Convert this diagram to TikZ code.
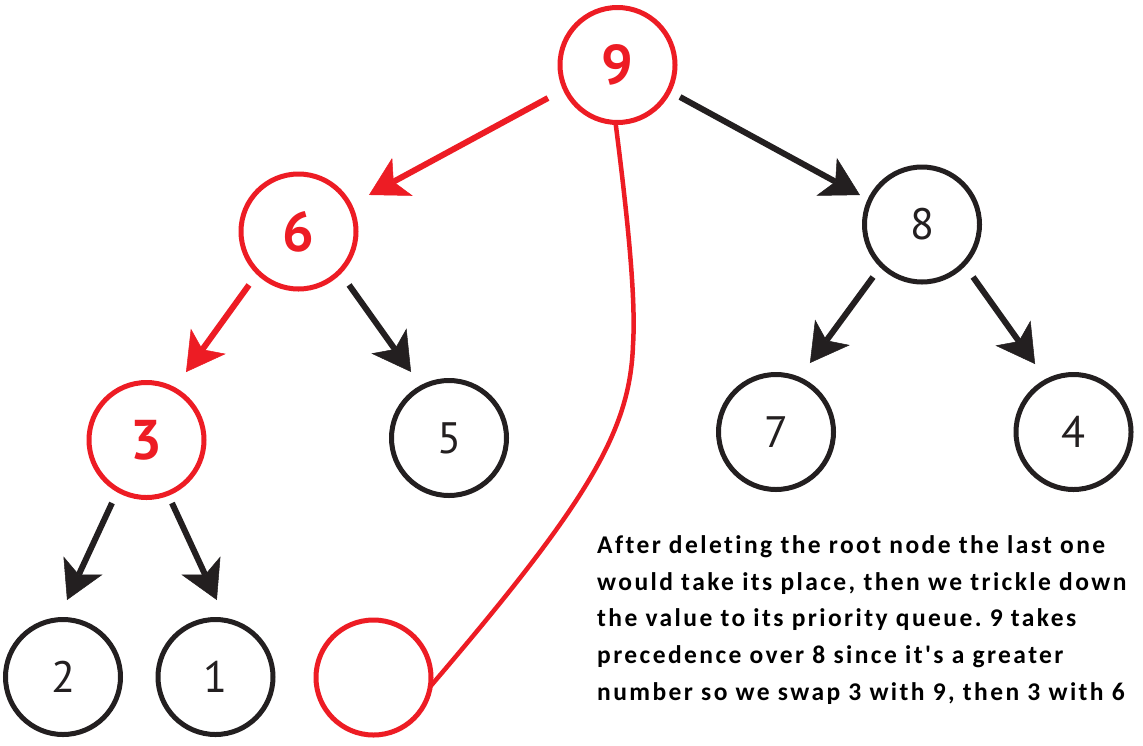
\documentclass[tikz,border=0pt]{standalone}
\usepackage{fontspec}
\usetikzlibrary{arrows.meta,calc}
\newfontfamily\digitfont{PT Sans}
\newfontfamily\notefont{Carlito}[LetterSpace=9.5, Ligatures=NoCommon]
\definecolor{hred}{HTML}{ED1C24}
\definecolor{hblack}{HTML}{231F20}
\frenchspacing
\tikzset{
  heapnode/.style={circle, draw=hblack, line width=5pt, minimum size=115pt, inner sep=0pt, outer sep=0pt,
    text=hblack, font=\digitfont\fontsize{44}{44}\selectfont},
  rednode/.style={heapnode, draw=hred, text=hred, font=\digitfont\bfseries\fontsize{56}{56}\selectfont},
  blackarr/.style={draw=hblack, line width=6pt, -{Stealth[length=38pt, width=43pt, inset=10pt, line width=0.5pt]}},
  redarr/.style={blackarr, draw=hred, fill=hred},
  swapline/.style={draw=hred, line width=4.5pt},
}
\begin{document}
\begin{tikzpicture}[x=1pt,y=-1pt]
\useasboundingbox[fill=white] (0,0) rectangle (1143,745);
\node[rednode] (n9) at (617.5,65) {9};
\node[rednode] (n6) at (298.5,231.5) {6};
\node[heapnode] (n8) at (922,224.5) {8};
\node[rednode] (n3) at (146.5,440) {3};
\node[heapnode] (n5) at (449,438) {5};
\node[heapnode] (n7) at (776,432) {7};
\node[heapnode] (n4) at (1073.5,432) {4};
\node[heapnode] (n2) at (63,677) {2};
\node[heapnode] (n1) at (215.5,677) {1};
\node[heapnode, draw=hred] (ne) at (373.5,677.5) {};
% connectors
\draw[redarr] ($(n9)+(205.4:77pt)$) -- ($(n6)+(27.4:79.4pt)$);
\draw[blackarr, fill=hblack] ($(n9)+(332.9:70.2pt)$) -- ($(n8)+(154.6:68.7pt)$);
\draw[redarr] ($(n6)+(227.2:72.9pt)$) -- ($(n3)+(59.8:78.6pt)$);
\draw[blackarr, fill=hblack] ($(n6)+(313.4:73.6pt)$) -- ($(n5)+(119.9:76.2pt)$);
\draw[blackarr, fill=hblack] ($(n8)+(227:71.8pt)$) -- ($(n7)+(63.8:76.9pt)$);
\draw[blackarr, fill=hblack] ($(n8)+(314.2:73.2pt)$) -- ($(n4)+(119.5:78.1pt)$);
\draw[blackarr, fill=hblack] ($(n3)+(241.3:71.8pt)$) -- ($(n2)+(87:77.1pt)$);
\draw[blackarr, fill=hblack] ($(n3)+(292:68pt)$) -- ($(n1)+(89:77pt)$);
\draw[swapline] (n9.268) .. controls (628,220) and (636,300) .. (633,345)
  .. controls (630,430) and (590,500) .. (ne.351);
% note
\node[anchor=base west, align=left, inner sep=0pt, text=black,
  font=\notefont\bfseries\fontsize{25.5}{36.8}\selectfont] (note) at (597,700.5)
  {After deleting the root node the last one\\
   would take its place, then we trickle down\\
   the value to its priority queue. 9 takes\\
   precedence over 8 since it's a greater\\
   number so we swap 3 with 9, then 3 with 6};
\end{tikzpicture}
\end{document}
